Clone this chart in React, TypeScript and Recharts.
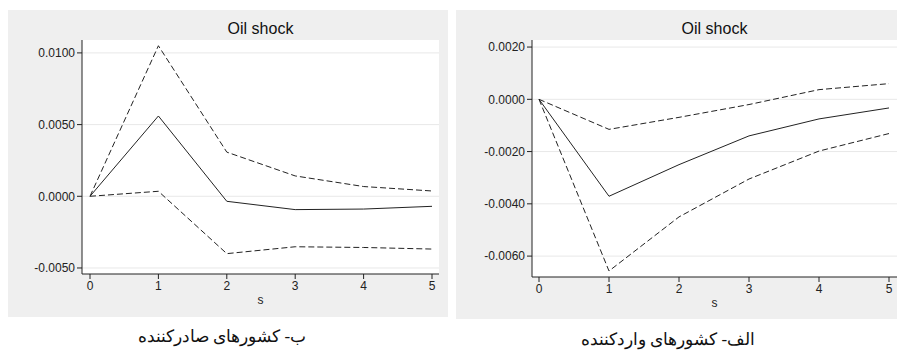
import { LineChart, Line, XAxis, YAxis, CartesianGrid } from "recharts";

const steps = [0, 1, 2, 3, 4, 5];

// exporting countries (left)
const expMean = [0, 0.0056, -0.00035, -0.00093, -0.00089, -0.0007];
const expUpper = [0, 0.0105, 0.00308, 0.00142, 0.00068, 0.00037];
const expLower = [0, 0.00035, -0.004, -0.00352, -0.00357, -0.00368];
const expTicks = [-0.005, 0, 0.005, 0.01];

// importing countries (right)
const impMean = [0, -0.00371, -0.0025, -0.0014, -0.00075, -0.00033];
const impUpper = [0, -0.00115, -0.00069, -0.0002, 0.00037, 0.0006];
const impLower = [0, -0.00657, -0.0045, -0.00305, -0.00198, -0.00131];
const impTicks = [-0.006, -0.004, -0.002, 0, 0.002];

const xTicks = [0, 1, 2, 3, 4, 5];

const toRows = (mean: number[], up: number[], lo: number[]) =>
  steps.map((s, i) => ({ s, mean: mean[i], upper: up[i], lower: lo[i] }));

const sans = "'Liberation Sans', Arial, sans-serif";
const tickStyle = { fontSize: 12, fill: "#222", fontFamily: sans };

type PanelProps = {
  left: number;
  top: number;
  width: number;
  height: number;
  rows: { s: number; mean: number; upper: number; lower: number }[];
  domain: [number, number];
  yTicks: number[];
  margin: { top: number; right: number; bottom: number; left: number };
  pad: { left: number; right: number };
};

function Panel({ left, top, width, height, rows, domain, yTicks, margin, pad }: PanelProps) {
  const plotCenter = margin.left + 60 + (width - margin.left - 60 - margin.right) / 2;
  return (
    <div style={{ position: "absolute", left, top, width, height, background: "#efefef" }}>
      <div
        style={{
          position: "absolute",
          left: plotCenter - 80,
          width: 160,
          top: 10,
          textAlign: "center",
          fontSize: 16,
          fontFamily: sans,
          color: "#111",
        }}
      >
        Oil shock
      </div>
      <LineChart width={width} height={height} data={rows} margin={margin}>
        <CartesianGrid vertical={false} stroke="#e8e8e8" fill="#ffffff" horizontalValues={yTicks} />
        <XAxis
          dataKey="s"
          type="number"
          domain={[0, 5]}
          ticks={xTicks}
          padding={pad}
          height={30}
          tick={tickStyle}
          tickSize={5}
          stroke="#222"
          label={{ value: "s", position: "insideBottom", offset: 0, fontSize: 12, fill: "#222", fontFamily: sans }}
        />
        <YAxis
          type="number"
          domain={domain}
          allowDataOverflow
          ticks={yTicks}
          width={60}
          tick={tickStyle}
          tickSize={5}
          stroke="#222"
          tickFormatter={(v: number) => v.toFixed(4)}
        />
        <Line dataKey="upper" stroke="#222" strokeWidth={1} strokeDasharray="6 3" dot={false} isAnimationActive={false} />
        <Line dataKey="lower" stroke="#222" strokeWidth={1} strokeDasharray="6 3" dot={false} isAnimationActive={false} />
        <Line dataKey="mean" stroke="#222" strokeWidth={1} dot={false} isAnimationActive={false} />
      </LineChart>
    </div>
  );
}

const captionStyle = {
  position: "absolute" as const,
  fontSize: 17,
  fontFamily: "'Liberation Serif', 'DejaVu Serif', serif",
  direction: "rtl" as const,
  textAlign: "center" as const,
  width: 300,
  color: "#111",
};

export default function App() {
  return (
    <div style={{ position: "absolute", left: 0, top: 0, width: 897, height: 352, background: "#fff", overflow: "hidden" }}>
      <Panel
        left={8}
        top={10}
        width={440}
        height={307}
        rows={toRows(expMean, expUpper, expLower)}
        domain={[-0.00542, 0.0109]}
        yTicks={expTicks}
        margin={{ top: 30, right: 9, bottom: 13, left: 14 }}
        pad={{ left: 8, right: 7 }}
      />
      <Panel
        left={456}
        top={10}
        width={441}
        height={309}
        rows={toRows(impMean, impUpper, impLower)}
        domain={[-0.0068, 0.00227]}
        yTicks={impTicks}
        margin={{ top: 30, right: 0, bottom: 12, left: 16 }}
        pad={{ left: 7, right: 8 }}
      />
      <div style={{ ...captionStyle, left: 72, top: 326 }}>ب- کشورهای صادرکننده</div>
      <div style={{ ...captionStyle, left: 518, top: 329 }}>الف- کشورهای واردکننده</div>
    </div>
  );
}
